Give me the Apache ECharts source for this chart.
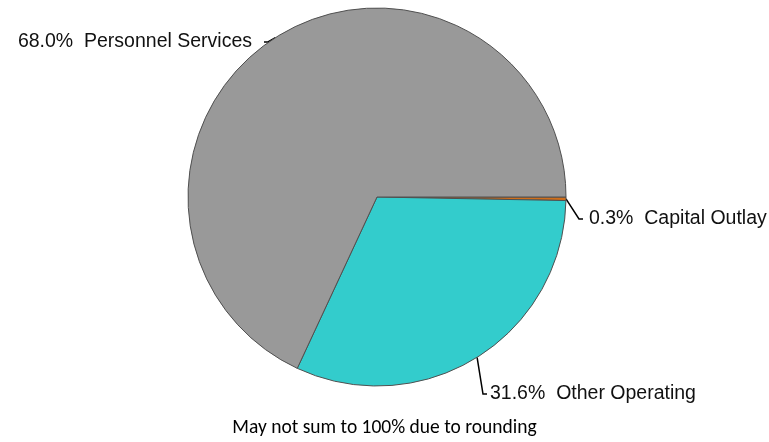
<!DOCTYPE html>
<html>
<head>
<meta charset="utf-8">
<script src="https://cdn.jsdelivr.net/npm/echarts@6/dist/echarts.min.js"></script>
<style>
  html, body { margin: 0; padding: 0; background: #fff; }
  #chart { width: 769px; height: 442px; }
</style>
</head>
<body>
<div id="chart"></div>
<script>
// Budget shares by category (percent)
var categories = ['Capital Outlay', 'Other Operating', 'Personnel Services'];
var shares = [0.3, 31.6, 68.0];
var colors = ['#D06E1A', '#33CCCC', '#999999'];
var footnote = 'May not sum to 100% due to rounding';

// label placement: x is the box edge, y the text middle; padding moves where the leader line meets the box
var labelSpots = {
  'Personnel Services': { x: 264, y: 42, align: 'right', padding: [14, 12, 0, 0] },
  'Capital Outlay': { x: 583, y: 219, align: 'left', padding: [12, 0, 0, 6] },
  'Other Operating': { x: 487, y: 394, align: 'left', padding: [16, 0, 0, 3] }
};

var seriesData = categories.map(function (name, i) {
  return {
    name: name,
    value: shares[i],
    itemStyle: { color: colors[i] },
    label: { padding: labelSpots[name].padding }
  };
});

var chart = echarts.init(document.getElementById('chart'), null, { renderer: 'canvas' });
chart.setOption({
  animation: false,
  backgroundColor: '#ffffff',
  title: {
    text: footnote,
    left: 'center',
    top: 413,
    textStyle: {
      fontFamily: 'Carlito, "Open Sans", sans-serif',
      fontSize: 19.5,
      fontWeight: 'normal',
      color: '#000'
    }
  },
  series: [{
    type: 'pie',
    center: [377, 197],
    radius: 189,
    startAngle: 0,
    clockwise: true,
    silent: true,
    itemStyle: { borderColor: '#505050', borderWidth: 1 },
    label: {
      show: true,
      position: 'outside',
      color: '#111',
      overflow: 'none',
      backgroundColor: 'rgba(255,255,255,0)',
      fontFamily: '"Liberation Sans", Arial, sans-serif',
      fontSize: 19.5,
      formatter: function (p) { return p.value.toFixed(1) + '%  ' + p.name; }
    },
    labelLine: {
      show: true,
      length: 10,
      length2: 4,
      lineStyle: { color: '#000', width: 1.5 }
    },
    labelLayout: function (params) {
      var s = labelSpots[categories[params.dataIndex]];
      return { x: s.x, y: s.y, align: s.align, verticalAlign: 'middle' };
    },
    data: seriesData
  }]
});
</script>
</body>
</html>
